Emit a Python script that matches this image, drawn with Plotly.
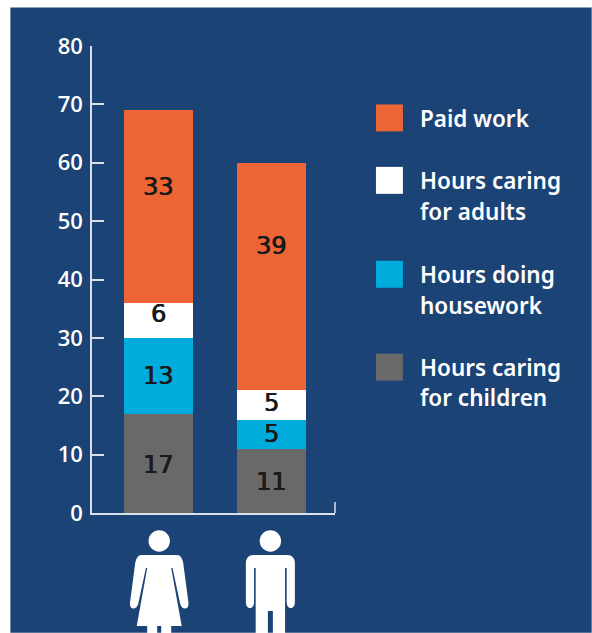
import plotly.graph_objects as go

# Weekly hours by activity, stacked from the bottom up
groups = ["Women", "Men"]
children = [17, 11]
housework = [13, 5]
adults = [6, 5]
paid = [33, 39]

# Vertical nudges of the value labels, in pixels, per series and group
shift_children = [-1.5, -1]
shift_housework = [-0.5, 0]
shift_adults = [6, 2]
shift_paid = [20, 31]

NAVY = "#1b4375"
ORANGE = "#ee6535"
WHITE = "#ffffff"
BLUE = "#00acdc"
GREY = "#696969"
AXIS = "#d9e0ea"
INK = "#1a1a1a"
SANS = "'Noto Sans', 'Open Sans', sans-serif"
W, H = 592, 633
L, R, T, B = 91.7, 335, 45.5, 513
XR = [-0.591, 1.562]

series = [
    ("Hours caring for children", children, GREY, shift_children),
    ("Hours doing housework", housework, BLUE, shift_housework),
    ("Hours caring for adults", adults, WHITE, shift_adults),
    ("Paid work", paid, ORANGE, shift_paid),
]


def px(x):
    return (x - L) / (R - L)


def py(y):
    return (B - y) / (B - T)


fig = go.Figure()
annotations = []
base = [0, 0]
for name, vals, col, shifts in series:
    fig.add_bar(x=[0, 1], y=vals, name=name, width=0.61,
                marker=dict(color=col, line_width=0), showlegend=False)
    for i, v in enumerate(vals):
        annotations.append(dict(
            x=i, y=base[i] + v / 2, text=str(v), showarrow=False, yshift=shifts[i], xshift=-0.5,
            xanchor="center", yanchor="middle",
            font=dict(family="DejaVu Sans", size=24, color=INK,
                      shadow=f"0.5px 0 0 {INK}, -0.3px 0 0 {INK}"),
        ))
        base[i] += v

shapes = [
    # Page panel behind the chart
    dict(type="rect", xref="paper", yref="paper", x0=px(10), x1=px(592), y0=py(633), y1=py(7),
         fillcolor=NAVY, line_width=0, layer="below"),
    # Closing tick at the right end of the baseline
    dict(type="line", xref="paper", yref="paper", x0=1, x1=1, y0=0, y1=py(502),
         line=dict(color=AXIS, width=1.5)),
]

# Legend swatches and labels, top to bottom
legend_rows = [
    (ORANGE, 117.5, ["Paid work"], [118]),
    (WHITE, 180, ["Hours caring", "for adults"], [180, 211]),
    (BLUE, 274, ["Hours doing", "housework"], [274, 305]),
    (GREY, 367, ["Hours caring", "for children"], [367, 397]),
]
for col, yc, lines, ys in legend_rows:
    shapes.append(dict(type="rect", xref="paper", yref="paper", x0=px(376), x1=px(403),
                       y0=py(yc + 13.5), y1=py(yc - 13.5), fillcolor=col, line_width=0))
    for line, yy in zip(lines, ys):
        annotations.append(dict(xref="paper", yref="paper", x=px(418), y=py(yy), text=line,
                                showarrow=False, xanchor="left", yanchor="middle",
                                font=dict(family=SANS, size=22.5, color=WHITE, weight=600)))

# Pictogram outlines in pixels around the shoulder line, y growing downward
woman = (
    "M-18 0 L18 0 C21 0 23 3 24 8 L29 46 C31 55 23 56 21 49 L13.3 13 L12 13 L22.5 71 L12 71 L12 84 "
    "L2 84 L2 71 L-2 71 L-2 84 L-12 84 L-12 71 L-22.5 71 L-12 13 L-13.3 13 L-21 49 "
    "C-23 56 -31 55 -29 46 L-24 8 C-23 3 -21 0 -18 0 Z"
)
man = (
    "M-17 0 L17 0 C21.5 0 24.5 3 24.5 8 L24.5 47 C24.5 55 16.3 55 16.3 47 L16.3 13 L14.7 13 L14.7 84 "
    "L2.5 84 L2.5 56 L-2.5 56 L-2.5 84 L-14.7 84 L-14.7 13 L-16.3 13 L-16.3 47 C-16.3 55 -24.5 55 -24.5 47 "
    "L-24.5 8 C-24.5 3 -21.5 0 -17 0 Z"
)


def circle(cy, r):
    k = 0.5523 * r
    return (f"M{-r} {cy} C{-r} {cy-k} {-k} {cy-r} 0 {cy-r} C{k} {cy-r} {r} {cy-k} {r} {cy} "
            f"C{r} {cy+k} {k} {cy+r} 0 {cy+r} C{-k} {cy+r} {-r} {cy+k} {-r} {cy} Z")


def flip(path):
    # Pixel-sized shape paths run upward, so every y offset changes sign
    spaced = path
    for cmd in "MLCZ":
        spaced = spaced.replace(cmd, f" {cmd} ")
    tok = spaced.split()
    out, i = [], 0
    while i < len(tok):
        if tok[i] in "MLCZ":
            out.append(tok[i])
            i += 1
        else:
            out += [tok[i], str(-float(tok[i + 1]))]
            i += 2
    return " ".join(out)


for body, cx in [(woman, 159), (man, 270.3)]:
    for outline in (body, circle(-14, 10.7)):
        shapes.append(dict(type="path", xref="paper", yref="paper",
                           xsizemode="pixel", ysizemode="pixel",
                           xanchor=px(cx), yanchor=py(555), path=flip(outline),
                           fillcolor=WHITE, line_width=0))

fig.update_layout(
    barmode="stack", width=W, height=H, autosize=False,
    margin=dict(l=L, r=W - R, t=T, b=H - B, pad=0),
    paper_bgcolor=WHITE, plot_bgcolor="rgba(0,0,0,0)",
    shapes=shapes, annotations=annotations,
    xaxis=dict(range=XR, showticklabels=False, ticks="", showgrid=False, zeroline=False,
               showline=True, linecolor=AXIS, linewidth=1.5),
    yaxis=dict(range=[0, 80], tickvals=list(range(0, 90, 10)), showgrid=False, zeroline=False,
               showline=True, linecolor=AXIS, linewidth=1.5, ticks="inside", ticklen=12,
               tickcolor=AXIS, tickwidth=1.5, ticklabelstandoff=3,
               tickfont=dict(family="'Open Sans', sans-serif", size=22, color=WHITE, weight=600)),
    bargap=0,
)

fig.write_html("out.html", config=dict(displayModeBar=False))
